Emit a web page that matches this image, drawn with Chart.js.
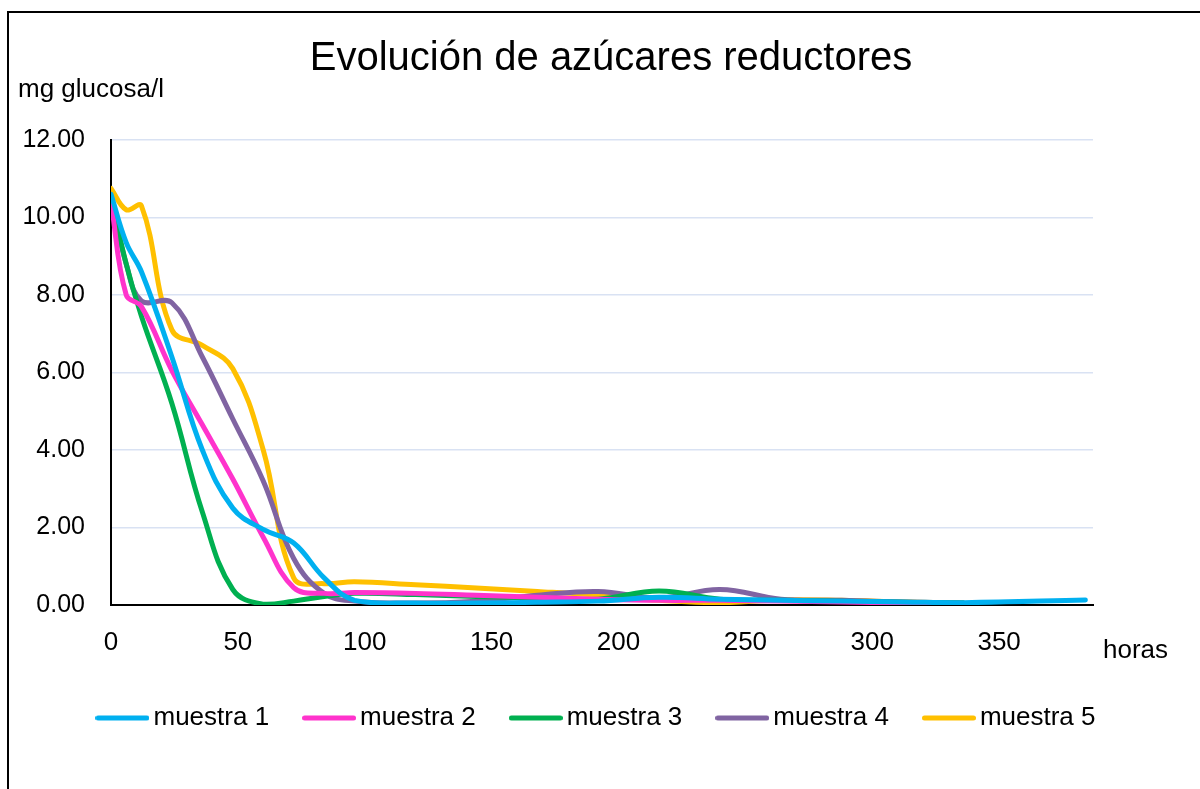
<!DOCTYPE html>
<html>
<head>
<meta charset="utf-8">
<script src="https://cdn.jsdelivr.net/npm/chart.js@4.4.1/dist/chart.umd.min.js"></script>
<style>
  html, body { margin: 0; padding: 0; background: #fff; }
  #wrap { width: 1200px; height: 789px; }
</style>
</head>
<body>
<div id="wrap"><canvas id="chart"></canvas></div>
<script>
// sampling times (hours) and glucose values per sample
var horas = [0, 6, 12, 24, 36, 48, 60, 72, 84, 96, 120, 144, 168, 192, 216, 240, 264, 288, 312, 336, 384];
var muestra1 = [10.6, 9.35, 8.6, 6.4, 4.0, 2.5, 1.95, 1.6, 0.7, 0.12, 0.05, 0.05, 0.07, 0.1, 0.2, 0.15, 0.12, 0.1, 0.08, 0.06, 0.13];
var muestra2 = [10.4, 8.0, 7.7, 6.05, 4.65, 3.25, 1.75, 0.45, 0.3, 0.32, 0.3, 0.25, 0.2, 0.15, 0.12, 0.12, 0.1, 0.08, 0.05, 0.03];
var muestra3 = [10.5, 8.8, 7.45, 5.2, 2.4, 0.4, 0.02, 0.1, 0.22, 0.3, 0.27, 0.22, 0.18, 0.15, 0.36, 0.15, 0.12, 0.1, 0.07, 0.05];
var muestra4 = [10.5, 8.8, 7.85, 7.8, 6.4, 4.8, 3.2, 1.2, 0.3, 0.1, 0.05, 0.1, 0.25, 0.35, 0.18, 0.4, 0.15, 0.12, 0.08, 0.05];
var muestra5 = [10.75, 10.2, 10.3, 7.1, 6.7, 6.1, 4.0, 0.7, 0.55, 0.6, 0.52, 0.44, 0.35, 0.25, 0.12, 0.06, 0.13, 0.12, 0.08, 0.05];

var nombres = ['muestra 1', 'muestra 2', 'muestra 3', 'muestra 4', 'muestra 5'];
var colores = ['#00B0F0', '#FF33CC', '#00B050', '#8064A2', '#FFC000'];
var xTicks = [0, 50, 100, 150, 200, 250, 300, 350];
var yTicks = [0, 2, 4, 6, 8, 10, 12];

var titulo = 'Evolución de azúcares reductores';
var tituloY = 'mg glucosa/l';
var tituloX = 'horas';

var FONT = '"Liberation Sans", Arial, sans-serif';

function puntos(valores) {
  var out = [];
  for (var i = 0; i < valores.length; i++) {
    out.push({x: horas[i], y: valores[i]});
  }
  return out;
}

// line swatch for the legend; it runs a bit past the left of the 36px box
// so the label sits right after the line, like Excel does
function muestraLinea(color) {
  var c = document.createElement('canvas');
  c.width = 54;
  c.height = 8;
  var g = c.getContext('2d');
  g.strokeStyle = color;
  g.lineWidth = 5;
  g.lineCap = 'round';
  g.beginPath();
  g.moveTo(2.5, 4);
  g.lineTo(51.5, 4);
  g.stroke();
  return c;
}

var series = [muestra1, muestra2, muestra3, muestra4, muestra5];
var datasets = series.map(function(valores, i) {
  return {
    label: nombres[i],
    data: puntos(valores),
    borderColor: colores[i],
    backgroundColor: colores[i],
    borderWidth: 5,
    borderCapStyle: 'round',
    borderJoinStyle: 'round',
    tension: 0.4,
    pointRadius: 0,
    pointHoverRadius: 0,
    pointStyle: muestraLinea(colores[i])
  };
});

var decorado = {
  id: 'decorado',
  beforeDraw: function(chart) {
    var ctx = chart.ctx;
    ctx.save();
    ctx.fillStyle = '#fff';
    ctx.fillRect(0, 0, chart.width, chart.height);
    ctx.restore();
  },
  afterDraw: function(chart) {
    var ctx = chart.ctx;
    ctx.save();
    ctx.strokeStyle = '#000';
    ctx.lineWidth = 2;
    ctx.strokeRect(8, 12, 1400, 1000);
    ctx.fillStyle = '#000';
    ctx.textBaseline = 'alphabetic';
    ctx.font = '40px ' + FONT;
    ctx.textAlign = 'center';
    ctx.fillText(titulo, 611, 70);
    ctx.font = '26px ' + FONT;
    ctx.textAlign = 'left';
    ctx.fillText(tituloY, 18, 97);
    ctx.fillText(tituloX, 1103, 658);
    ctx.restore();
  }
};

new Chart(document.getElementById('chart'), {
  type: 'line',
  data: {datasets: datasets},
  plugins: [decorado],
  options: {
    responsive: true,
    maintainAspectRatio: false,
    animation: false,
    layout: {padding: {left: 0, right: 0, top: 140, bottom: 48}},
    plugins: {
      title: {display: false},
      tooltip: {enabled: false},
      legend: {
        position: 'bottom',
        align: 'center',
        labels: {
          usePointStyle: true,
          pointStyleWidth: 36,
          color: '#000',
          padding: 42,
          font: {family: FONT, size: 26}
        }
      }
    },
    scales: {
      x: {
        type: 'linear',
        min: 0,
        max: 387,
        afterFit: function(s) { s.height = 58; },
        afterBuildTicks: function(s) { s.ticks = xTicks.map(function(v) { return {value: v}; }); },
        ticks: {color: '#000', padding: 22, font: {family: FONT, size: 26}},
        grid: {display: false, drawTicks: false},
        border: {color: '#000', width: 2}
      },
      y: {
        min: 0,
        max: 12,
        afterFit: function(s) { s.width = 111; },
        afterBuildTicks: function(s) { s.ticks = yTicks.map(function(v) { return {value: v}; }); },
        ticks: {
          color: '#000',
          padding: 26,
          font: {family: FONT, size: 25},
          callback: function(v) { return v.toFixed(2); }
        },
        grid: {color: '#D9E2F3', lineWidth: 1.5, drawTicks: false},
        border: {color: '#000', width: 2}
      },
      // empty right-hand box that keeps the plot's right edge where the reference has it
      margen: {
        position: 'right',
        afterFit: function(s) { s.width = 107; },
        ticks: {display: false},
        grid: {display: false, drawTicks: false},
        border: {display: false}
      }
    }
  }
});
</script>
</body>
</html>
